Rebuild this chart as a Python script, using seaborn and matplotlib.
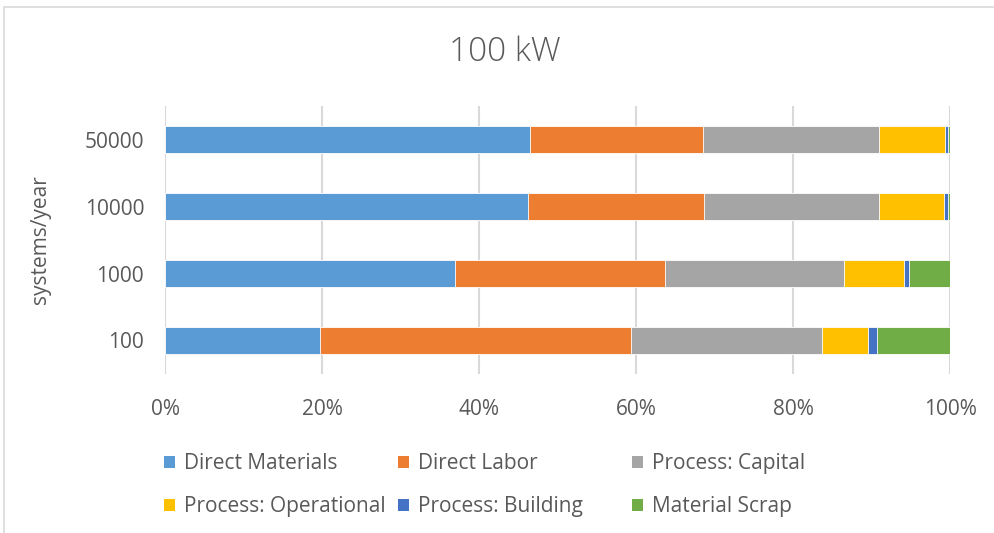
import numpy as np
import pandas as pd
import matplotlib
matplotlib.use("Agg")
import matplotlib.pyplot as plt
from matplotlib.patches import Patch, Rectangle
from matplotlib.ticker import PercentFormatter
import seaborn as sns

# Production volume (systems/year) and cost-share of each component (%)
volumes = ["50000", "10000", "1000", "100"]
categories = ["Direct Materials", "Direct Labor", "Process: Capital",
              "Process: Operational", "Process: Building", "Material Scrap"]
direct_materials = [46.5, 46.2, 36.9, 19.7]
direct_labor = [22.0, 22.5, 26.8, 39.7]
process_capital = [22.5, 22.3, 22.8, 24.3]
process_operational = [8.3, 8.2, 7.6, 5.8]
process_building = [0.5, 0.5, 0.7, 1.2]
material_scrap = [0.2, 0.3, 5.2, 9.3]
colors = ["#5b9bd5", "#ed7d31", "#a5a5a5", "#ffc000", "#4472c4", "#70ad47"]

series = [direct_materials, direct_labor, process_capital,
          process_operational, process_building, material_scrap]

sns.set_theme(style="white")
plt.rcParams["font.family"] = ["Open Sans", "DejaVu Sans"]
text_color = "#595959"

W, H = 994, 533
fig = plt.figure(figsize=(W / 100, H / 100), dpi=100)
ax = fig.add_axes([165 / W, 1 - 374 / H, (950 - 165) / W, (374 - 106) / H])

# Chart frame
fig.patches.append(Rectangle((4 / W, -0.05), 1.1, 1 - 7 / H + 0.05,
                             transform=fig.transFigure, fill=False,
                             edgecolor="#d9d9d9", linewidth=1.2, zorder=0))

# Stacked horizontal bars: draw cumulative totals from the last segment back
df = pd.DataFrame({"volume": volumes})
cum = np.zeros(len(volumes))
cum_cols = []
for name, vals in zip(categories, series):
    cum = cum + np.array(vals)
    df[name] = cum
    cum_cols.append(name)

for name, color in reversed(list(zip(cum_cols, colors))):
    sns.barplot(data=df, x=name, y="volume", order=volumes, orient="h",
                color=color, width=0.4, saturation=1, ax=ax,
                edgecolor="white", linewidth=0.6, zorder=3)

ax.set_xlim(0, 100)
ax.set_ylim(3.5, -0.5)
ax.xaxis.set_major_locator(matplotlib.ticker.MultipleLocator(20))
ax.xaxis.set_major_formatter(PercentFormatter(decimals=0))
ax.grid(axis="x", color="#d9d9d9", linewidth=1.5, zorder=0)
ax.grid(axis="y", visible=False)
ax.set_axisbelow(True)
for s in ax.spines.values():
    s.set_visible(False)
ax.tick_params(axis="both", length=0, labelsize=15, colors=text_color)
ax.tick_params(axis="x", pad=18)
ax.tick_params(axis="y", pad=15)
ax.set_xlabel("")
ax.set_ylabel("systems/year", fontsize=15, color=text_color, labelpad=24)

fig.text(505 / W, 1 - 52 / H, "100 kW", ha="center", va="center",
         fontsize=24, color=text_color, fontweight="light")

# Legend laid out as three columns of two entries
handles = [Patch(facecolor=c, edgecolor="none", label=l)
           for c, l in zip(colors, categories)]
col_x = [154, 388, 622]
for j in range(3):
    leg = fig.legend(handles=[handles[j], handles[j + 3]], loc="upper left",
                     bbox_to_anchor=(col_x[j] / W, 1 - 443 / H),
                     frameon=False, fontsize=15, borderpad=0,
                     handlelength=0.5, handleheight=0.5,
                     handletextpad=0.45, labelspacing=1.05)
    for t in leg.get_texts():
        t.set_color(text_color)

fig.savefig("out.png", dpi=100)
